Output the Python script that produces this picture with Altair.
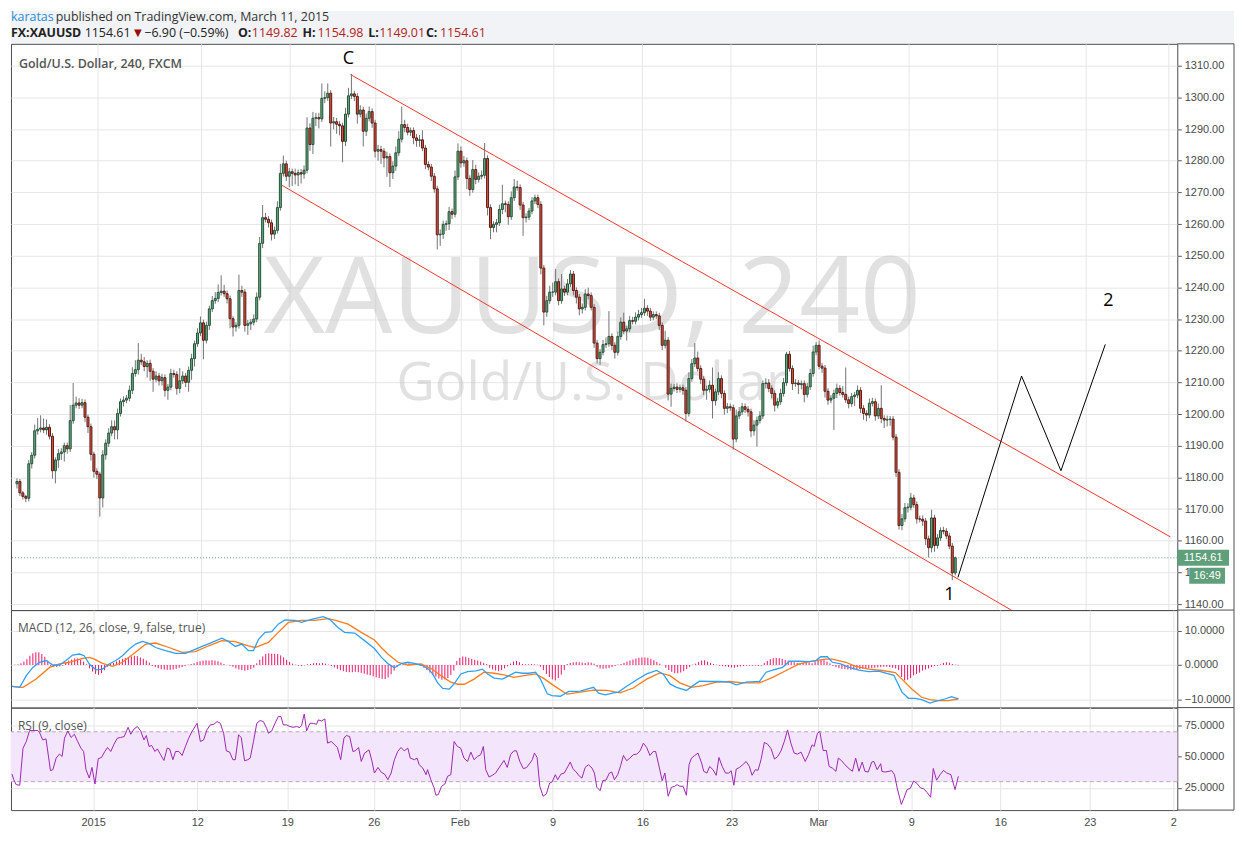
import altair as alt
import pandas as pd

# ---------------- data ----------------
first_open = 1178.0
closes = [
    1178.7, 1175.1, 1174.0, 1173.4, 1184.3, 1187.0, 1194.7, 1195.2, 1195.6, 1195.0,
    1195.8, 1193.0, 1182.1, 1185.5, 1187.5, 1188.0, 1190.0, 1189.0, 1197.9, 1202.8,
    1203.5, 1202.8, 1203.6, 1199.0, 1196.0, 1187.3, 1181.9, 1181.0, 1173.5, 1187.1,
    1190.8, 1194.0, 1196.0, 1195.0, 1200.2, 1203.9, 1204.4, 1205.0, 1207.5, 1212.8,
    1214.0, 1217.0, 1216.5, 1215.0, 1216.0, 1213.5, 1211.0, 1212.0, 1210.5, 1211.5,
    1207.5, 1208.5, 1212.8, 1212.5, 1208.1, 1210.5, 1212.0, 1210.0, 1213.8, 1217.5,
    1222.2, 1225.6, 1228.8, 1223.3, 1228.0, 1233.2, 1235.8, 1236.5, 1238.4, 1238.8,
    1238.0, 1236.4, 1230.1, 1227.5, 1228.0, 1239.0, 1238.5, 1228.0, 1228.5, 1229.0,
    1230.0, 1236.9, 1253.9, 1262.0, 1261.5, 1260.4, 1256.8, 1258.0, 1265.2, 1276.0,
    1279.0, 1275.1, 1276.5, 1276.0, 1275.5, 1276.2, 1275.8, 1277.0, 1290.3, 1285.1,
    1293.4, 1293.6, 1293.2, 1299.7, 1299.9, 1301.3, 1291.9, 1292.3, 1291.5, 1291.0,
    1286.1, 1294.7, 1300.5, 1301.1, 1300.3, 1294.7, 1296.0, 1289.3, 1293.4, 1295.5,
    1291.9, 1283.0, 1283.5, 1283.0, 1280.9, 1281.3, 1276.2, 1278.3, 1282.5, 1286.8,
    1291.4, 1290.5, 1289.0, 1289.5, 1287.2, 1286.4, 1286.6, 1284.0, 1278.8, 1278.0,
    1275.1, 1271.1, 1256.6, 1256.8, 1259.9, 1260.1, 1263.9, 1263.1, 1274.9, 1283.0,
    1279.3, 1280.0, 1274.4, 1270.9, 1277.2, 1274.1, 1275.1, 1275.4, 1280.7, 1265.2,
    1258.9, 1259.9, 1260.4, 1264.6, 1266.4, 1266.2, 1262.3, 1268.3, 1271.7, 1271.5,
    1266.0, 1262.0, 1262.2, 1264.1, 1267.3, 1268.3, 1266.2, 1246.1, 1232.2, 1235.8,
    1238.5, 1238.5, 1241.8, 1235.8, 1239.5, 1238.5, 1241.1, 1244.2, 1239.0, 1236.9,
    1233.2, 1233.7, 1237.9, 1237.4, 1233.7, 1222.4, 1217.5, 1219.5, 1221.9, 1222.2,
    1224.5, 1221.7, 1219.5, 1224.5, 1229.0, 1226.2, 1226.9, 1229.5, 1229.3, 1230.6,
    1231.4, 1232.0, 1233.4, 1232.5, 1230.6, 1231.4, 1231.0, 1228.0, 1221.7, 1223.3,
    1206.3, 1208.1, 1208.5, 1207.8, 1208.3, 1207.5, 1200.2, 1211.2, 1215.9, 1217.7,
    1214.4, 1211.0, 1207.5, 1207.8, 1209.1, 1204.2, 1207.0, 1211.2, 1206.5, 1201.8,
    1202.3, 1202.0, 1192.1, 1199.4, 1200.7, 1202.3, 1201.5, 1200.7, 1194.7, 1196.5,
    1198.0, 1199.4, 1209.6, 1209.8, 1208.1, 1206.5, 1202.8, 1203.9, 1206.5, 1209.9,
    1218.9, 1214.4, 1209.6, 1209.8, 1209.3, 1209.6, 1206.2, 1208.6, 1212.8, 1219.6,
    1221.7, 1215.1, 1214.5, 1207.2, 1204.4, 1205.0, 1206.5, 1208.1, 1206.8, 1206.2,
    1204.5, 1203.3, 1205.5, 1206.0, 1207.5, 1201.8, 1200.2, 1199.7, 1203.4, 1203.9,
    1199.4, 1201.8, 1198.6, 1198.1, 1198.3, 1198.4, 1192.7, 1181.6, 1164.8, 1166.9,
    1170.4, 1170.6, 1173.5, 1171.4, 1166.9, 1166.8, 1166.2, 1160.6, 1157.8, 1167.2,
    1158.5, 1160.9, 1163.2, 1163.0, 1161.5, 1158.3, 1149.82, 1154.61,
]
upper_wick = [
    1.0, 0.8, 0.6, 0.5, 1.2, 1.0, 2.0, 3.5, 4.0, 3.0,
    2.5, 1.0, 1.0, 0.8, 1.5, 1.2, 1.0, 1.0, 5.0, 7.0,
    2.0, 1.5, 1.2, 1.0, 0.8, 1.0, 0.8, 1.0, 0.8, 1.5,
    1.2, 1.5, 2.0, 2.0, 1.5, 1.0, 1.2, 1.0, 1.5, 2.0,
    3.0, 5.4, 2.0, 1.5, 1.0, 1.2, 1.0, 1.5, 1.0, 1.2,
    1.0, 1.0, 1.5, 1.2, 1.0, 4.0, 1.5, 1.0, 1.2, 1.5,
    1.0, 1.5, 2.0, 1.0, 1.2, 1.0, 1.5, 2.0, 2.5, 5.0,
    2.0, 1.0, 1.0, 0.8, 1.0, 5.0, 1.5, 1.0, 1.2, 1.0,
    1.5, 1.5, 2.0, 4.0, 1.5, 1.0, 1.0, 1.2, 2.0, 3.0,
    2.6, 1.0, 1.2, 1.0, 1.5, 1.0, 1.2, 1.5, 3.4, 1.5,
    2.0, 1.5, 1.5, 4.7, 2.0, 3.1, 1.0, 1.5, 1.2, 1.0,
    1.0, 2.0, 2.5, 6.3, 1.0, 1.0, 1.5, 1.0, 1.5, 1.6,
    1.0, 1.0, 1.5, 1.2, 1.0, 1.5, 1.0, 1.5, 2.0, 2.5,
    5.7, 1.5, 1.2, 1.0, 1.0, 1.2, 1.5, 3.0, 1.0, 1.0,
    1.0, 1.0, 1.0, 1.5, 1.2, 1.0, 1.5, 1.0, 2.0, 2.5,
    1.5, 1.5, 1.0, 1.0, 3.0, 1.5, 1.2, 1.5, 4.9, 1.0,
    1.0, 1.0, 1.2, 1.5, 6.0, 1.0, 1.0, 2.0, 2.5, 2.0,
    1.0, 1.0, 1.2, 1.0, 1.2, 1.0, 1.0, 1.0, 1.0, 1.5,
    2.0, 3.0, 4.0, 1.0, 4.7, 1.0, 1.5, 1.3, 1.0, 1.0,
    1.0, 1.2, 1.5, 2.0, 1.0, 1.0, 1.0, 1.0, 1.5, 2.0,
    8.0, 1.0, 1.0, 1.5, 1.5, 3.0, 1.0, 1.5, 1.2, 1.5,
    1.5, 1.5, 3.0, 1.0, 1.0, 1.0, 1.0, 1.0, 1.0, 3.0,
    1.0, 1.5, 1.0, 1.2, 1.0, 1.0, 1.0, 2.0, 1.5, 4.7,
    2.0, 1.0, 1.0, 1.2, 1.5, 5.6, 1.0, 2.0, 1.0, 1.0,
    1.2, 1.0, 1.0, 2.0, 1.5, 1.2, 1.0, 1.0, 1.0, 1.5,
    1.2, 1.5, 1.0, 1.5, 1.2, 1.0, 1.0, 1.2, 1.5, 1.5,
    0.7, 1.0, 1.0, 1.2, 1.0, 1.0, 1.0, 1.2, 1.5, 2.0,
    1.0, 1.5, 1.0, 1.0, 1.0, 1.0, 1.2, 1.5, 1.0, 2.0,
    8.5, 1.0, 1.2, 1.0, 1.5, 1.0, 1.0, 1.0, 1.5, 1.2,
    1.0, 1.5, 7.3, 1.0, 1.2, 1.0, 1.0, 1.0, 1.0, 1.5,
    1.5, 1.2, 1.6, 1.0, 1.0, 1.0, 1.2, 1.0, 1.0, 2.6,
    1.0, 1.2, 1.0, 1.2, 1.0, 1.0, 1.0, 0.4,
]
lower_wick = [
    1.5, 1.0, 1.0, 1.2, 1.0, 1.5, 1.0, 1.2, 1.0, 1.0,
    1.5, 1.0, 2.5, 4.0, 2.5, 2.0, 3.0, 1.5, 1.0, 1.0,
    1.0, 1.2, 1.0, 1.5, 2.0, 2.0, 2.0, 1.5, 5.9, 3.0,
    1.5, 1.2, 1.0, 3.0, 3.0, 1.0, 1.5, 1.0, 1.0, 1.2,
    1.0, 1.5, 1.0, 1.5, 3.5, 3.0, 4.0, 1.0, 1.5, 1.5,
    2.0, 3.0, 1.0, 1.0, 2.0, 1.5, 1.0, 1.5, 3.0, 3.0,
    2.5, 1.0, 1.0, 6.0, 1.0, 1.5, 1.0, 1.0, 1.2, 1.0,
    1.0, 1.5, 3.0, 3.0, 1.5, 1.0, 1.5, 2.0, 3.0, 2.0,
    1.0, 1.0, 1.0, 1.5, 1.0, 1.5, 2.0, 1.5, 1.0, 1.0,
    1.0, 1.5, 3.5, 4.0, 3.0, 3.5, 3.0, 1.5, 1.0, 2.0,
    3.0, 2.5, 3.0, 1.0, 1.5, 1.0, 7.4, 2.0, 3.0, 3.0,
    6.6, 1.5, 1.0, 1.0, 1.5, 3.0, 1.0, 4.8, 1.5, 1.0,
    1.5, 2.0, 3.0, 4.0, 3.0, 6.0, 4.5, 2.0, 1.5, 1.0,
    1.0, 1.5, 1.0, 1.2, 2.0, 2.0, 2.0, 1.0, 1.5, 1.0,
    1.5, 1.2, 4.6, 3.5, 1.5, 2.0, 2.0, 1.5, 1.0, 1.0,
    1.5, 1.2, 3.4, 2.0, 1.0, 1.5, 1.0, 1.0, 1.0, 2.5,
    3.7, 1.5, 2.5, 1.0, 1.5, 2.5, 2.5, 1.0, 1.0, 1.0,
    1.5, 5.7, 1.5, 1.0, 1.0, 1.0, 1.2, 2.0, 4.2, 1.5,
    1.0, 1.5, 1.0, 1.5, 1.0, 1.2, 1.0, 1.0, 1.5, 2.0,
    2.0, 1.5, 1.0, 1.2, 1.0, 1.5, 1.5, 2.0, 1.0, 1.0,
    1.0, 1.5, 2.0, 1.0, 1.0, 1.0, 3.0, 1.0, 1.0, 1.0,
    1.0, 1.0, 1.0, 1.5, 1.2, 1.0, 1.0, 1.5, 1.5, 1.0,
    2.0, 4.0, 1.0, 1.2, 1.0, 1.5, 2.6, 1.0, 1.0, 1.0,
    1.0, 1.5, 1.5, 3.0, 1.0, 5.6, 1.5, 1.0, 1.5, 2.0,
    1.5, 1.0, 3.4, 1.0, 1.0, 1.0, 1.2, 1.5, 2.0, 1.5,
    6.8, 1.0, 1.0, 1.5, 1.2, 1.5, 2.0, 1.0, 1.0, 1.0,
    1.0, 1.0, 2.0, 1.0, 3.0, 1.5, 2.5, 1.0, 1.0, 1.0,
    1.0, 1.0, 1.5, 2.0, 1.5, 1.0, 10.0, 1.5, 1.0, 1.0,
    1.0, 1.5, 1.0, 3.0, 1.0, 1.5, 2.0, 2.0, 1.0, 1.0,
    1.5, 1.0, 1.5, 2.5, 2.0, 2.0, 1.0, 1.5, 1.3, 1.5,
    1.0, 1.5, 1.0, 1.0, 1.5, 1.0, 1.5, 2.0, 3.0, 1.5,
    2.0, 1.0, 1.0, 1.0, 1.0, 1.0, 2.3, 0.8,
]
macd_hist = [
    0.0, 0.1, 0.2, 0.5, 1.0, 1.7, 2.7, 3.4, 3.7, 3.7, 3.2, 2.4, 1.3,
    -0.3, -0.5, -0.6, -0.4, -0.2,
    0.8, 1.3, 1.6, 1.9, 1.9, 1.6, 1.0,
    0.2, -1.0, -1.9, -2.6, -2.9, -2.4, -1.5,
    -0.5,
    0.3, 0.6, 1.0, 1.4, 1.8, 2.0, 2.3, 2.5, 2.7, 2.6, 2.2, 1.8, 1.3, 0.7,
    -0.3, -0.6, -0.9, -1.2, -1.3, -1.4, -1.4, -1.3, -1.1, -0.8, -0.6, -0.3,
    0.1, 0.3,
    0.5, 0.9, 1.1, 1.3, 1.4, 1.3, 1.4, 1.3, 1.1, 0.7, 0.3,
    0.0, -0.2,
    -0.5, -1.0, -1.3, -1.5, -1.7, -1.5, -1.2, -0.8,
    0.5, 1.5, 2.5, 3.2, 3.4, 3.3, 3.3, 3.2, 2.8, 2.2, 1.5, 0.9, 0.4, 0.1,
    -0.2, -0.3, -0.1, 0.2,
    0.3, 0.5, 0.6, 0.5, 0.6, 0.4, 0.1,
    -0.3, -0.7, -1.1, -1.5, -1.8, -2.0, -2.1, -2.1, -2.0, -2.1, -2.3, -2.5,
    -2.8, -3.0, -3.3, -3.6, -3.8, -4.0, -4.1, -3.6, -2.7, -1.6, -0.6,
    0.2, 0.4, 0.5, 0.5, 0.4, 0.3, 0.2,
    -0.3, -0.8, -1.5, -2.2, -2.8, -3.4, -3.9, -4.3, -4.2, -3.8, -2.9, -1.6,
    1.2, 2.1, 2.5, 2.4, 2.1, 1.8, 1.5, 1.3, 1.0, 0.6, 0.3,
    -0.8, -1.3, -1.6, -1.8, -1.5, -1.0, -0.4,
    0.4, 1.0, 1.2, 0.8,
    0.3, 0.2, 0.2, 0.3, 0.2, 0.1,
    -0.5, -1.5, -2.6, -3.5, -4.2, -4.5, -3.8, -2.8, -1.5,
    0.3, 0.6, 0.8, 0.9, 0.8, 0.7, 0.6, 0.8, 0.7, 0.4,
    -0.5, -1.0, -1.1, -1.0, -0.9, -0.6, -0.3,
    0.1,
    0.3, 0.6, 1.0, 1.3, 1.6, 1.9, 2.1, 2.2, 2.2, 2.1, 1.8, 1.4, 0.9, 0.4,
    0.0,
    -0.8, -1.5, -2.0, -2.4, -2.4, -2.2, -1.8, -1.2, -0.6,
    0.1,
    0.4, 0.9, 1.3, 1.4, 1.0, 0.6, 0.3,
    0.1,
    -0.2, -0.3, -0.4, -0.6, -0.7, -0.8, -0.6, -0.4, -0.3, -0.2, -0.2, -0.2, -0.2, -0.3, -0.2,
    0.6, 1.2, 1.7, 2.0, 2.1, 2.0, 1.8, 1.5, 1.3, 1.0, 0.8,
    0.6, 0.5, 0.6, 0.8, 0.7, 0.5,
    1.0, 1.3, 1.5, 1.4, 1.0, 0.5,
    -0.3, -0.6, -0.9, -1.1, -1.2, -1.3, -1.4, -1.3, -1.2, -1.2, -1.1, -1.0,
    -1.0, -0.9, -0.8, -0.7, -0.6, -0.5, -0.5, -0.6, -0.8, -1.0,
    -1.5, -3.5, -4.5, -4.3, -3.8, -3.0, -2.6, -2.2, -1.6, -1.3, -1.0, -0.6, -0.3, -0.2,
    0.2, 0.6, 0.8, 0.7, 0.3, 0.1, -0.1,
]
macd_line = [
    (0, -6.2), (2.6, -6.5), (4.8, -3.1), (7, -0.7), (9.2, 0.8), (11.4, 1.3), (13.7, 0.0),
    (15.9, 0.0), (18.1, 1.3), (20.3, 2.9), (22.6, 3.2), (24.2, 2.7), (25.9, 0.3), (28.1, -1.4),
    (30.3, -1.2), (32.6, 0.3), (34.8, 1.3), (37, 2.7), (39.2, 4.6), (41.4, 6.1), (43.7, 6.9),
    (45.9, 6.3), (48.1, 5.1), (51.4, 4.2), (54.8, 3.4), (58.1, 3.4), (60.3, 4.2), (63.7, 5.4),
    (67, 6.6), (70.3, 7.8), (72.6, 6.8), (74.8, 5.4), (77, 6.1), (79.2, 4.2), (80.9, 4.2),
    (82.6, 7.5), (84.8, 9.5), (87, 9.7), (89.2, 11.9), (91.4, 13.1), (94.8, 13.0), (97, 12.4),
    (100.3, 13.3), (104.2, 14.1), (106.4, 13.3), (109.2, 10.9), (111.4, 9.5), (114.8, 9.3),
    (118.1, 7.1), (121.4, 4.8), (123.7, 2.3), (125.9, 0.4), (128.1, -0.8), (130.3, 0.4),
    (132.6, 0.8), (134.8, 0.5), (137, 0.0), (139.3, -1.0), (140.9, -2.6), (142.6, -5.2),
    (144.3, -6.8), (146.5, -7.0), (148.1, -5.5), (150.4, -2.6), (152.6, -1.9), (155.4, -1.7),
    (157.6, -1.2), (159.3, -2.6), (161.5, -3.8), (164.3, -4.1), (166.5, -3.1), (168.7, -2.1),
    (170.9, -2.4), (173.1, -2.4), (175.4, -2.1), (177, -4.1), (179.3, -8.4), (180.9, -8.9),
    (183.7, -9.1), (186.5, -7.7), (188.7, -7.7), (190.4, -7.6), (192.6, -7.0), (194.8, -6.5),
    (196.5, -8.2), (198.7, -8.7), (201.5, -8.1), (203.1, -7.9), (205.9, -6.2), (209.3, -4.3),
    (212.6, -2.6), (215.9, -1.6), (218.1, -2.6), (220.4, -5.5), (222.6, -6.5), (225.9, -7.4),
    (228.1, -6.0), (230.3, -4.7), (233.7, -4.8), (237, -4.8), (240.4, -5.0), (242.6, -5.8),
    (245.9, -5.0), (250.4, -4.8), (252.6, -2.1), (254.8, -1.5), (258.1, -0.7), (260.4, 1.1),
    (263.7, 1.1), (267, 1.0), (269.3, 1.3), (270.9, 2.4), (273.1, 2.4), (274.8, 0.8),
    (277.6, 0.3), (280.4, -0.7), (283.7, -1.5), (287, -1.9), (290.3, -1.8), (293.6, -2.6),
    (295.4, -3.0), (298.1, -7.9), (300.3, -9.7), (302.5, -9.7), (304.7, -10.1), (307.5, -11.1),
    (309.2, -10.6), (312.5, -9.9), (314.7, -9.2), (316.4, -9.7), (317, -9.7),
]
signal_line = [
    (0, -6.2), (3.7, -6.5), (8.1, -4.1), (12.6, -0.7), (15.9, 0.3), (19.2, 0.8), (23.7, 1.9),
    (25.9, 2.2), (27.6, 1.7), (30.3, 0.5), (33.7, -0.4), (37, 0.8), (41.4, 3.7), (44.8, 6.1),
    (48.1, 6.4), (52.6, 5.1), (57, 3.7), (61.4, 3.9), (65.9, 5.6), (70.3, 7.1), (74.8, 6.8),
    (79.2, 5.6), (81.4, 5.1), (85.9, 6.6), (89.2, 9.5), (92.6, 12.4), (97, 13.0), (101.4, 13.0),
    (105.9, 13.5), (108.1, 13.1), (112.6, 11.9), (117, 9.5), (121.4, 7.3), (123.7, 5.1),
    (125.9, 3.2), (129.3, 0.8), (132.6, 0.0), (137, 0.3), (140.4, -1.0), (143.7, -3.1),
    (147, -5.0), (149.3, -5.6), (151.5, -5.6), (154.8, -4.1), (158.1, -2.1), (161.5, -2.4),
    (164.8, -2.9), (168.1, -3.6), (171.5, -3.1), (175.4, -2.6), (178.1, -3.9), (181.5, -6.0),
    (185.9, -8.5), (190.4, -7.9), (194.8, -7.3), (199.3, -7.4), (203.7, -8.1), (208.1, -6.7),
    (212.6, -4.1), (217, -2.3), (220.4, -3.1), (223.7, -5.2), (227.6, -6.5), (231.5, -6.0),
    (235.9, -5.0), (240.4, -4.8), (244.8, -5.2), (250.4, -5.2), (254.8, -3.6), (259.3, -1.6),
    (263.7, 0.3), (268.1, 1.1), (272.6, 1.7), (274.8, 1.7), (279.3, 0.8), (282.6, -0.4),
    (287, -1.2), (291.5, -1.6), (295.9, -2.2), (298.1, -4.1), (301.4, -7.0), (304.7, -9.4),
    (307.5, -10.1), (310.3, -10.4), (313.6, -10.4), (317, -9.9),
]
rsi_line = [
    (0, 36.1), (0.6, 31.6), (1.4, 27.6), (2.6, 27.1), (3.7, 56.9), (4.8, 62.2), (5.9, 71.0),
    (7, 71.0), (8.7, 71.0), (9.2, 69.6), (10.3, 63.5), (11.4, 64.3), (12.9, 38.8), (13.7, 39.6),
    (14.8, 48.9), (15.9, 52.1), (16.8, 50.2), (17.6, 64.9), (18.7, 70.7), (19.8, 65.4),
    (20.9, 68.0), (22, 62.2), (23.1, 56.9), (24, 54.2), (24.8, 39.6), (25.9, 32.9), (26.8, 41.4),
    (27.8, 28.1), (28.9, 48.4), (30, 49.4), (31.1, 54.2), (32, 57.4), (33.1, 54.2), (34.2, 60.1),
    (35.3, 64.9), (36.4, 65.4), (37.6, 66.2), (38.9, 73.6), (39.8, 68.0), (40.9, 72.3),
    (42, 74.2), (43.1, 70.7), (44.2, 63.5), (45, 67.0), (45.9, 58.2), (46.8, 59.0), (47.9, 54.2),
    (48.7, 56.3), (49.8, 51.6), (50.9, 47.0), (52, 56.9), (52.8, 56.3), (53.9, 47.6),
    (54.8, 54.2), (55.9, 54.2), (57, 51.0), (58.1, 58.2), (59.2, 64.9), (60.3, 70.2), (62, 76.8),
    (63.1, 62.2), (64.2, 63.5), (65.3, 71.5), (66.4, 75.5), (67.6, 76.0), (68.7, 78.2),
    (69.8, 76.8), (70.9, 68.8), (71.8, 54.7), (72.9, 53.7), (74, 47.6), (74.8, 47.6),
    (75.9, 67.5), (76.8, 65.4), (77.9, 46.8), (79, 47.6), (79.8, 48.9), (80.9, 62.2), (82, 76.8),
    (83.1, 79.0), (84.2, 78.2), (85.3, 72.8), (85.9, 68.8), (87, 70.7), (88.1, 76.8),
    (89.2, 82.2), (90.1, 82.2), (90.9, 75.5), (92, 75.5), (93.1, 74.2), (94.2, 73.6),
    (95.3, 74.2), (96.4, 73.4), (97, 75.0), (97.9, 84.3), (98.7, 70.7), (99.8, 76.8),
    (100.9, 76.8), (102, 76.0), (102.6, 79.5), (103.7, 78.7), (104.8, 80.3), (105.7, 60.9),
    (107, 62.2), (108.1, 59.5), (109, 57.4), (110.1, 47.6), (111.2, 64.9), (112, 67.0),
    (113.1, 66.2), (114.2, 54.2), (115, 54.7), (116.1, 57.4), (117, 46.2), (118.1, 52.9),
    (119.6, 55.5), (120.6, 46.2), (121.4, 36.9), (122.6, 41.4), (123.7, 37.5), (124.8, 36.1),
    (125.9, 31.6), (127, 36.9), (128.1, 47.6), (129.2, 54.2), (130.3, 57.4), (131.4, 54.7),
    (132.6, 56.9), (133.4, 48.9), (134.8, 47.6), (135.7, 48.9), (136.4, 43.6), (137.6, 40.9),
    (138.7, 35.6), (139.2, 39.6), (140.3, 31.6), (141.4, 25.0), (142, 19.1), (142.8, 19.6),
    (143.9, 26.3), (145, 28.1), (145.9, 34.3), (147, 35.6), (148.1, 62.2), (149.2, 58.2),
    (150.3, 56.9), (151.4, 48.9), (152.6, 46.2), (153.7, 53.7), (154.8, 47.6), (155.9, 50.2),
    (157, 51.6), (157.9, 58.2), (158.7, 39.6), (159.8, 33.7), (160.9, 35.1), (162, 36.9),
    (163.1, 40.9), (164.8, 47.0), (165.9, 41.4), (167, 51.6), (168.1, 54.7), (169, 54.7),
    (170.1, 46.2), (171.3, 40.4), (172.4, 41.4), (173.5, 44.9), (174.3, 47.6), (175, 52.9),
    (175.9, 49.4), (176.8, 26.3), (177.9, 18.3), (179, 20.2), (180.1, 28.9), (180.9, 29.7),
    (182, 35.6), (182.8, 31.6), (183.9, 36.1), (185, 36.9), (185.9, 40.9), (187, 45.7),
    (187.9, 40.4), (189, 37.7), (190.1, 34.3), (190.9, 32.9), (192, 41.4), (193.1, 43.6),
    (194.3, 40.9), (195.1, 36.9), (195.9, 25.5), (197, 22.8), (197.9, 30.8), (199, 31.3),
    (200.1, 36.9), (200.9, 37.7), (201.8, 31.6), (202.9, 35.6), (203.9, 43.0), (204.8, 51.0),
    (205.9, 46.8), (207, 48.9), (208.1, 51.6), (209.3, 52.1), (210.4, 54.7), (211.5, 60.9),
    (212.6, 57.4), (213.7, 51.0), (214.8, 54.2), (215.6, 54.2), (216.5, 44.9), (217.8, 30.8),
    (218.7, 36.9), (219.8, 18.3), (220.9, 25.5), (222, 26.3), (222.8, 27.6), (223.7, 26.3),
    (224.8, 26.3), (225.9, 19.1), (226.8, 43.6), (227.6, 48.9), (228.7, 51.0), (229.8, 52.9),
    (231, 44.9), (231.7, 38.3), (232.8, 36.9), (233.7, 42.2), (234.8, 39.6), (235.9, 35.1),
    (236.8, 49.4), (237.9, 42.2), (239, 36.9), (240.1, 36.9), (240.9, 38.8), (241.8, 27.1),
    (242.6, 40.1), (243.7, 41.4), (244.8, 43.6), (245.9, 46.2), (247, 42.2), (247.9, 35.1),
    (249, 39.6), (249.9, 39.1), (250.9, 47.6), (252, 61.4), (253.1, 60.1), (254.3, 56.3),
    (255.4, 48.1), (256.5, 50.2), (257.6, 54.7), (258.7, 62.2), (259.8, 71.5), (260.9, 60.9),
    (262, 52.9), (263.1, 52.1), (264.3, 53.7), (265.7, 46.2), (266.8, 51.6), (268, 59.5),
    (268.7, 58.2), (269.8, 68.8), (270.6, 70.2), (271.7, 55.0), (272.8, 55.0), (273.7, 42.2),
    (274.8, 40.9), (276, 38.3), (276.8, 48.9), (277.9, 46.8), (279, 43.6), (280.4, 40.4),
    (281.5, 38.3), (282.6, 48.9), (283.7, 38.3), (284.8, 45.7), (285.7, 38.3), (286.8, 37.7),
    (288, 45.7), (288.7, 46.2), (289.8, 39.6), (291, 44.4), (291.4, 38.2), (292.5, 37.7),
    (294.7, 38.8), (295.6, 35.6), (296.5, 25.0), (297.9, 11.7), (298.7, 16.4), (299.8, 23.6),
    (300.9, 24.6), (302, 30.5), (303.1, 28.7), (304.3, 25.0), (305.4, 24.3), (306.5, 21.4),
    (307.7, 17.5), (308.6, 40.6), (309.7, 31.2), (310.9, 35.6), (312, 39.0), (313.1, 37.0),
    (314.5, 35.6), (315.9, 23.6), (317, 34.3),
]

# drawings
channel_pts = [("upper", 112.7, 1307.2), ("upper", 389.7, 1161.2),
               ("lower", 89.6, 1272.2), ("lower", 335.9, 1138.1)]
wave_pts = [(317.9, 1148.4), (339.4, 1212.0), (352.7, 1182.1), (367.7, 1222.0)]
wave_labels = [("C", 112.0, 1312.2), ("1", 315.0, 1142.8), ("2", 368.7, 1235.8)]

# axes
price_ticks = [1140, 1150, 1160, 1170, 1180, 1190, 1200, 1210, 1220, 1230,
               1240, 1250, 1260, 1270, 1280, 1290, 1300, 1310]
macd_ticks = [-10, 0, 10]
rsi_ticks = [25, 50, 75]
rsi_band = [30, 70]
tick_idx = [27.2, 62.1, 92.2, 121.2, 150.0, 181.1, 211.2, 241.0, 270.1, 301.2, 331.1, 361.0, 389.0]
tick_labels = ["2015", "12", "19", "26", "Feb", "9", "16", "23", "Mar", "9", "16", "23", "2"]

header_normal = [("published on TradingView.com, March 11, 2015", 45, 1, "#333333"),
                 ("1154.61", 74, 2, "#222222"),
                 ("\u25bc", 121, 2, "#9b0d0d"),
                 ("\u22126.90 (\u22120.59%)", 134, 2, "#222222"),
                 ("1149.82", 242, 2, "#b22222"),
                 ("1154.98", 308, 2, "#b22222"),
                 ("1149.01", 370, 2, "#b22222"),
                 ("1154.61", 431, 2, "#b22222")]
header_bold = [("FX:XAUUSD", 0, 2), ("O:", 228, 2), ("H:", 293, 2), ("L:", 359, 2), ("C:", 417, 2)]

# ---------------- layout ----------------
W = 1172
H_HEAD, H_PRICE, H_MACD, H_RSI = 33, 569, 98, 103
RIGHT = 1229
FRAME = "#4d4d4d"
GRID = "#e6e6e6"
AXFONT = "Liberation Sans"
AXCOL = "#4a4a4a"
one = pd.DataFrame({"k": [0]})

n = min(len(closes), len(upper_wick), len(lower_wick))
opens = [first_open] + closes[:-1]
cdf = pd.DataFrame({
    "i": list(range(n)),
    "o": opens[:n],
    "c": closes[:n],
    "h": [max(opens[k], closes[k]) + upper_wick[k] for k in range(n)],
    "l": [min(opens[k], closes[k]) - lower_wick[k] for k in range(n)],
})
last_close = closes[n - 1]

x_scale = alt.Scale(domain=[-0.33, 390.33], nice=False, zero=False)
label_expr = ("[" + ",".join("'%s'" % t for t in tick_labels) + "][indexof(["
              + ",".join(str(v) for v in tick_idx) + "], datum.value)]")


def xenc(labels=False):
    if labels:
        ax = alt.Axis(values=tick_idx, labelExpr=label_expr, grid=True, gridColor=GRID,
                      ticks=False, domain=False, title=None, labelPadding=6,
                      labelFontSize=11, labelColor=AXCOL, labelFont=AXFONT,
                      labelFlush=False, labelOverlap=False)
    else:
        ax = alt.Axis(values=tick_idx, grid=True, gridColor=GRID, labels=False,
                      ticks=False, domain=False, title=None)
    return alt.X("i:Q", scale=x_scale, axis=ax)


def yaxis(values, fmt):
    return alt.Axis(orient="right", values=values, format=fmt, title=None, grid=True,
                    gridColor=GRID, tickSize=4, tickColor="#555555", domain=False,
                    labelPadding=3, labelFontSize=11, labelColor=AXCOL, labelFont=AXFONT)


p_scale = alt.Scale(domain=[1138.1, 1316.9], nice=False, zero=False)
m_scale = alt.Scale(domain=[-12.4, 16.0], nice=False, zero=False)
r_scale = alt.Scale(domain=[7.2, 89.4], nice=False, zero=False)
p_axis = yaxis(price_ticks, ".2f")
m_axis = yaxis(macd_ticks, ".4f")
r_axis = yaxis(rsi_ticks, ".4f")


def py(f):
    return alt.Y(f + ":Q", scale=p_scale, axis=p_axis)


def my(f):
    return alt.Y(f + ":Q", scale=m_scale, axis=m_axis)


def ry(f):
    return alt.Y(f + ":Q", scale=r_scale, axis=r_axis)


def seg(x1, x2, y1, y2, color=FRAME):
    return alt.Chart(one).mark_rule(color=color, strokeWidth=1).encode(
        x=alt.value(x1), x2=alt.value(x2), y=alt.value(y1), y2=alt.value(y2))


def ptext(txt, x, y, **kw):
    return alt.Chart(one).mark_text(text=txt, align="left", baseline="middle", **kw).encode(
        x=alt.value(x), y=alt.value(y))


# ---------------- header ----------------
head_layers = [
    alt.Chart(one).mark_rect(color="#f1f3f6").encode(
        x=alt.value(0), x2=alt.value(RIGHT), y=alt.value(0), y2=alt.value(H_HEAD)),
    alt.Chart(one).mark_text(text="karatas", align="left", baseline="top", font="Open Sans",
                             fontSize=12.5, color="#2b8bd6").encode(x=alt.value(0), y=alt.value(0)),
]
for txt, x, line, col in header_normal:
    if line == 1:
        head_layers.append(alt.Chart(one).mark_text(
            text=txt, align="left", baseline="top", font="Open Sans", fontSize=12.5,
            color=col).encode(x=alt.value(x), y=alt.value(0)))
    else:
        fs = 13 if txt == "\u25bc" else 12.5
        head_layers.append(ptext(txt, x, 22, font="Open Sans", fontSize=fs, color=col))
for txt, x, line in header_bold:
    head_layers.append(ptext(txt, x, 22, font="Open Sans", fontSize=12.5,
                             fontWeight="bold", color="#222222"))
header = alt.layer(*head_layers).properties(
    width=W, height=H_HEAD, view=alt.ViewBackground(stroke="transparent"))

# ---------------- price panel ----------------
chdf = pd.DataFrame(channel_pts, columns=["line", "i", "p"])
wvdf = pd.DataFrame(wave_pts, columns=["i", "p"])
wldf = pd.DataFrame(wave_labels, columns=["t", "i", "p"])
lastdf = pd.DataFrame({"p": [last_close], "lbl": ["%.2f" % last_close], "tm": ["16:49"]})
up = "datum.c >= datum.o"

price_layers = [
    alt.Chart(one).mark_text(text="XAUUSD, 240", align="center", baseline="alphabetic",
                             font="Open Sans", fontSize=107, color="#c4c4c4", opacity=0.5).encode(
        x=alt.value(584), y=alt.value(291)),
    alt.Chart(one).mark_text(text="Gold/U.S. Dollar", align="center", baseline="alphabetic",
                             font="Open Sans", fontSize=53, color="#c4c4c4", opacity=0.5).encode(
        x=alt.value(584), y=alt.value(358)),
    ptext("Gold/U.S. Dollar, 240, FXCM", 8, 20, font="Open Sans", fontSize=12.5,
          fontWeight=600, color="#555555"),
    alt.Chart(lastdf).mark_rule(color="#5f9f7b", strokeDash=[1, 2], strokeWidth=1).encode(y=py("p")),
    alt.Chart(chdf).mark_line(color="#f2362b", strokeWidth=1, clip=True).encode(
        x=xenc(), y=py("p"), detail="line:N"),
    alt.Chart(wvdf).mark_line(color="#000000", strokeWidth=1).encode(x=xenc(), y=py("p")),
    alt.Chart(cdf).mark_rule(color="#737375", strokeWidth=1).encode(x=xenc(), y=py("l"), y2="h"),
    alt.Chart(cdf).mark_bar(size=2, strokeWidth=1).encode(
        x=xenc(), y=py("o"), y2="c",
        fill=alt.condition(up, alt.value("#6ba583"), alt.value("#d75442")),
        stroke=alt.condition(up, alt.value("#225437"), alt.value("#5b1a13"))),
    alt.Chart(wldf).mark_text(font="Open Sans", fontSize=18, color="#000000",
                              baseline="middle").encode(x=xenc(), y=py("p"), text="t:N"),
    alt.Chart(lastdf).mark_point(shape="M-1,-0.31L1,-0.31L1,0.31L-1,0.31Z", size=2704,
                                 filled=True, opacity=1, color="#5f9f7b").encode(
        x=alt.value(W + 26), y=py("p")),
    alt.Chart(lastdf).mark_text(color="white", fontSize=11, font=AXFONT).encode(
        x=alt.value(W + 26), y=py("p"), text="lbl:N"),
    alt.Chart(lastdf).mark_point(shape="M-1,-0.45L1,-0.45L1,0.45L-1,0.45Z", size=1296,
                                 filled=True, opacity=1, color="#5f9f7b", yOffset=18).encode(
        x=alt.value(W + 30), y=py("p")),
    alt.Chart(lastdf).mark_text(color="white", fontSize=11, font=AXFONT, yOffset=18).encode(
        x=alt.value(W + 30), y=py("p"), text="tm:N"),
    seg(W, RIGHT, 0, 0),
    seg(RIGHT, RIGHT, 0, H_PRICE),
    seg(W, RIGHT, H_PRICE, H_PRICE),
]
price = alt.layer(*price_layers).properties(width=W, height=H_PRICE)

# ---------------- MACD panel ----------------
hdf = pd.DataFrame({"i": list(range(len(macd_hist))), "h": macd_hist, "z": 0.0})
mdf = pd.DataFrame(macd_line, columns=["i", "v"])
sdf = pd.DataFrame(signal_line, columns=["i", "v"])
macd_layers = [
    alt.Chart(hdf).mark_rule(color="#ee1466", strokeWidth=1).encode(x=xenc(), y=my("h"), y2="z"),
    alt.Chart(sdf).mark_line(color="#ff7b1c", strokeWidth=1.3).encode(x=xenc(), y=my("v")),
    alt.Chart(mdf).mark_line(color="#2fa0f4", strokeWidth=1.3).encode(x=xenc(), y=my("v")),
    ptext("MACD (12, 26, close, 9, false, true)", 7, 18, font="Open Sans", fontSize=12,
          color="#555555"),
    seg(RIGHT, RIGHT, 0, H_MACD),
    seg(W, RIGHT, H_MACD, H_MACD),
]
macd = alt.layer(*macd_layers).properties(width=W, height=H_MACD)

# ---------------- RSI panel ----------------
rdf = pd.DataFrame(rsi_line, columns=["i", "v"])
banddf = pd.DataFrame({"lo": [rsi_band[0]], "hi": [rsi_band[1]]})
bandl = pd.DataFrame({"v": rsi_band})
rsi_layers = [
    alt.Chart(banddf).mark_rect(color="#f3e6fc").encode(
        x=alt.value(0), x2=alt.value(W), y=ry("hi"), y2="lo"),
    alt.Chart(bandl).mark_rule(color="#b7a6c0", strokeDash=[4, 3], strokeWidth=1).encode(y=ry("v")),
    alt.Chart(rdf).mark_line(color="#9c27b0", strokeWidth=1).encode(x=xenc(labels=True), y=ry("v")),
    ptext("RSI (9, close)", 7, 19, font="Open Sans", fontSize=12, color="#555555"),
    seg(RIGHT, RIGHT, 0, H_RSI),
    seg(W, RIGHT, H_RSI, H_RSI),
]
rsi = alt.layer(*rsi_layers).properties(width=W, height=H_RSI)

chart = alt.vconcat(header, price, macd, rsi, spacing=0, bounds="flush").properties(
    padding=0, background="white"
).configure_view(stroke=FRAME, strokeWidth=1)

chart.save("out.html", embed_options={"renderer": "svg", "actions": False})
